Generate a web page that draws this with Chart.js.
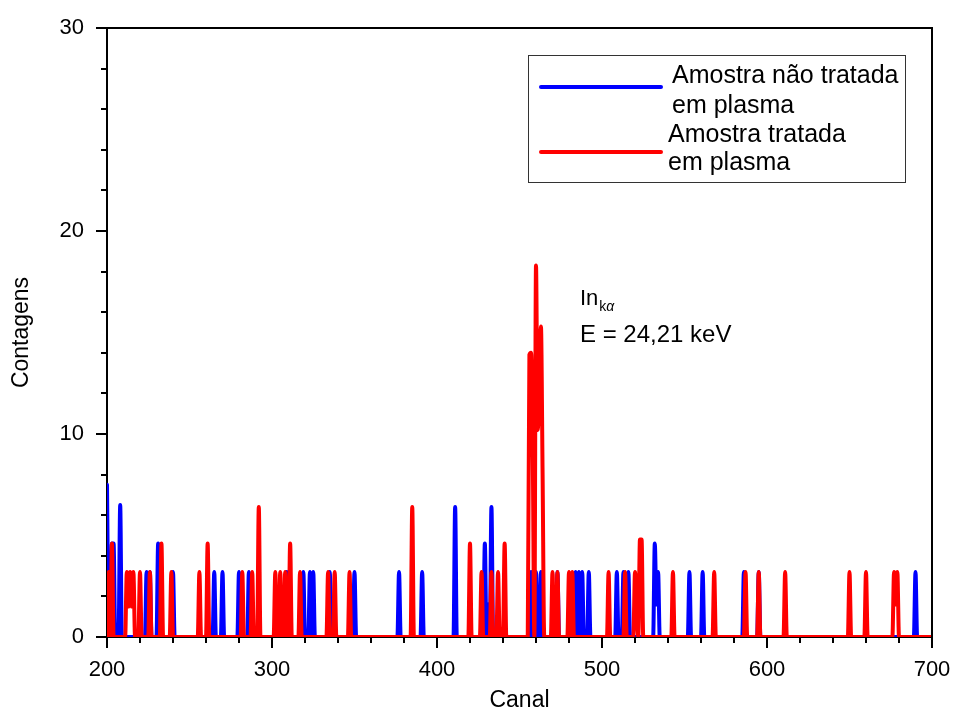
<!DOCTYPE html>
<html>
<head>
<meta charset="utf-8">
<script src="https://cdn.jsdelivr.net/npm/chart.js@4"></script>
<style>
  body { margin: 0; background: #fff; }
  canvas { display: block; }
</style>
</head>
<body>
<canvas id="chart" width="955" height="711"></canvas>
<script>
// Spectrum: channel 200..700, only non-zero channels listed, rest are 0
const CH_MIN = 200;
const CH_MAX = 700;

const blueChannels = [200, 201, 203, 204, 208, 224, 226, 231, 240, 265, 270, 280, 286, 309, 319, 323, 325, 335, 350, 377, 391, 411, 429, 431, 433, 457, 460, 463, 473, 484, 486, 488, 492, 509, 513, 516, 532, 533, 534, 553, 561, 586, 595, 690];
const blueCounts   = [7.5, 0.3, 4.6, 4.6, 6.5, 3.2, 3.2, 4.6, 3.2, 3.2, 3.2, 3.2, 3.2, 3.2, 3.2, 3.2, 3.2, 3.2, 3.2, 3.2, 3.2, 6.4, 4.6, 1.6, 6.4, 3.2, 3.2, 3.2, 3.2, 3.2, 3.2, 3.2, 3.2, 3.2, 3.2, 3.2, 4.6, 1.6, 3.2, 3.2, 3.2, 3.2, 3.2, 3.2];

const redChannels = [201, 203, 212, 213, 214, 215, 216, 220, 226, 233, 239, 256, 261, 282, 288, 292, 302, 305, 308, 311, 317, 334, 338, 347, 385, 420, 427, 433, 437, 441, 456, 457, 458, 460, 461, 462, 463, 464, 470, 473, 480, 482, 504, 514, 520, 521, 523, 524, 543, 568, 587, 595, 611, 650, 660, 677, 678, 679];
const redCounts   = [3.2, 4.6, 3.2, 1.5, 3.2, 1.5, 3.2, 3.2, 3.2, 4.6, 3.2, 3.2, 4.6, 3.2, 3.2, 6.4, 3.2, 3.2, 3.2, 4.6, 3.2, 3.2, 3.2, 3.2, 6.4, 4.6, 3.2, 3.2, 3.2, 4.6, 13.9, 14.0, 9.6, 18.3, 10.2, 12.0, 15.3, 8.0, 3.2, 3.2, 3.2, 3.2, 3.2, 3.2, 3.2, 1.6, 4.8, 4.8, 3.2, 3.2, 3.2, 3.2, 3.2, 3.2, 3.2, 3.2, 1.6, 3.2];

const seriesLabels = ['Amostra não tratada em plasma', 'Amostra tratada em plasma'];
const xTicks = [200, 300, 400, 500, 600, 700];
const yTicks = [0, 10, 20, 30];

const FONT = "'Liberation Sans', Arial, Helvetica, sans-serif";

function buildSeries(chs, counts) {
    const m = new Map();
    chs.forEach((c, i) => m.set(c, counts[i]));
    const pts = [];
    for (let c = CH_MIN; c <= CH_MAX; c++) pts.push({ x: c, y: m.get(c) || 0 });
    return pts;
}

// minor / major ticks, frame, legend box and peak label
const decorPlugin = {
    id: 'decor',
    afterDraw(chart) {
        const ctx = chart.ctx;
        const a = chart.chartArea;
        const xs = chart.scales.x, ys = chart.scales.y;
        ctx.save();
        ctx.strokeStyle = '#000';
        ctx.lineWidth = 2;
        ctx.beginPath();
        for (let v = CH_MIN; v <= CH_MAX; v += 20) {
            const px = Math.round(xs.getPixelForValue(v));
            const len = (v % 100 === 0) ? 11 : 6;
            ctx.moveTo(px, a.bottom);
            ctx.lineTo(px, a.bottom + len);
        }
        for (let v = 0; v <= 30; v += 2) {
            const py = Math.round(ys.getPixelForValue(v));
            const len = (v % 10 === 0) ? 11 : 6;
            ctx.moveTo(a.left, py);
            ctx.lineTo(a.left - len, py);
        }
        // top and right frame
        ctx.moveTo(a.left, a.top);
        ctx.lineTo(a.right, a.top);
        ctx.lineTo(a.right, a.bottom);
        ctx.stroke();

        // legend
        ctx.lineWidth = 1;
        ctx.strokeStyle = '#333';
        ctx.strokeRect(528.5, 55.5, 377, 127);
        ctx.lineCap = 'round';
        ctx.lineWidth = 4;
        ctx.strokeStyle = '#0000ff';
        ctx.beginPath(); ctx.moveTo(541, 87); ctx.lineTo(661, 87); ctx.stroke();
        ctx.strokeStyle = '#ff0000';
        ctx.beginPath(); ctx.moveTo(541, 152); ctx.lineTo(661, 152); ctx.stroke();

        ctx.fillStyle = '#000';
        ctx.textBaseline = 'alphabetic';
        ctx.textAlign = 'left';
        ctx.font = '25px ' + FONT;
        ctx.fillText('Amostra não tratada', 672, 83);
        ctx.fillText('em plasma', 672, 113);
        ctx.fillText('Amostra tratada', 668, 142);
        ctx.fillText('em plasma', 668, 170);

        // peak annotation
        ctx.font = '22px ' + FONT;
        ctx.fillText('In', 580, 305);
        const w = ctx.measureText('In').width;
        ctx.font = '14px ' + FONT;
        ctx.fillText('k', 580 + w + 1, 311);
        const wk = ctx.measureText('k').width;
        ctx.font = 'italic 14px ' + FONT;
        ctx.fillText('α', 580 + w + 1 + wk, 311);
        ctx.font = '24px ' + FONT;
        ctx.fillText('E = 24,21 keV', 580, 342);
        ctx.restore();
    }
};

const lineStyle = {
    borderWidth: 4,
    pointRadius: 0,
    cubicInterpolationMode: 'monotone',
    borderJoinStyle: 'round',
    borderCapStyle: 'round'
};

new Chart(document.getElementById('chart'), {
    type: 'line',
    data: {
        datasets: [
            Object.assign({
                label: seriesLabels[0],
                data: buildSeries(blueChannels, blueCounts),
                borderColor: '#0000ff',
                order: 2
            }, lineStyle),
            Object.assign({
                label: seriesLabels[1],
                data: buildSeries(redChannels, redCounts),
                borderColor: '#ff0000',
                order: 1
            }, lineStyle)
        ]
    },
    options: {
        responsive: false,
        animation: false,
        devicePixelRatio: 1,
        layout: { padding: { top: 28, right: 23, left: 0, bottom: 0 } },
        plugins: { legend: { display: false }, tooltip: { enabled: false } },
        scales: {
            x: {
                type: 'linear',
                min: CH_MIN,
                max: CH_MAX,
                afterBuildTicks: s => { s.ticks = xTicks.map(v => ({ value: v })); },
                ticks: { color: '#000', font: { family: FONT, size: 22 }, padding: 12, maxRotation: 0 },
                grid: { display: false },
                border: { display: true, color: '#000', width: 2 },
                title: { display: true, text: 'Canal', color: '#000', font: { family: FONT, size: 23 }, padding: { top: 0, bottom: -3 } },
                afterFit: s => { s.height = 74; s.paddingLeft = 0; s.paddingRight = 0; }
            },
            y: {
                min: 0,
                max: 30,
                afterBuildTicks: s => { s.ticks = yTicks.map(v => ({ value: v })); },
                ticks: { color: '#000', font: { family: FONT, size: 22 }, padding: 15 },
                grid: { display: false },
                border: { display: true, color: '#000', width: 2 },
                title: { display: true, text: 'Contagens', color: '#000', font: { family: FONT, size: 23 }, padding: { top: 8, bottom: 0 } },
                afterFit: s => { s.width = 107; s.paddingTop = 0; s.paddingBottom = 0; }
            }
        }
    },
    plugins: [decorPlugin]
});
</script>
</body>
</html>
